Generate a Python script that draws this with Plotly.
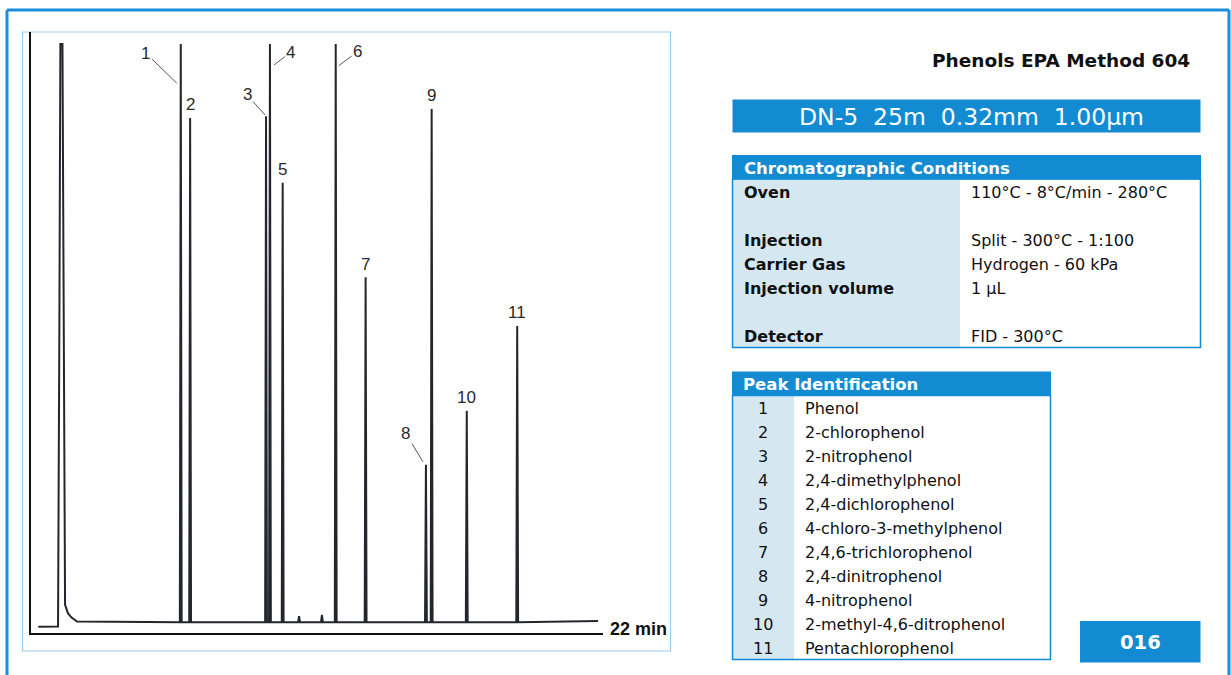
import plotly.graph_objects as go

W, H = 1231, 675

# ---------------- data ----------------
peak_numbers = ["1", "2", "3", "4", "5", "6", "7", "8", "9", "10", "11"]
peak_times = [5.76, 6.12, 9.04, 9.19, 9.68, 11.72, 12.87, 15.19, 15.41, 16.76, 18.70]   # min
peak_heights = [98.0, 85.7, 86.0, 98.0, 74.9, 98.0, 59.2, 28.0, 87.2, 37.0, 51.1]      # % full scale
compounds = ["Phenol", "2-chlorophenol", "2-nitrophenol", "2,4-dimethylphenol",
             "2,4-dichlorophenol", "4-chloro-3-methylphenol", "2,4,6-trichlorophenol",
             "2,4-dinitrophenol", "4-nitrophenol", "2-methyl-4,6-ditrophenol",
             "Pentachlorophenol"]

solvent_t = [0.28, 1.04, 1.09, 1.13, 1.21, 1.27, 1.31, 1.42, 1.55, 1.77]
solvent_y = [1.05, 1.1, 50.0, 98.0, 98.0, 20.0, 4.7, 3.3, 2.6, 1.9]

minor_times = [10.31, 11.19]
minor_heights = [2.8, 3.0]

baseline_level = 1.8
run_end_time = 21.81
run_end_level = 2.0
time_axis_label = "22 min"

condition_labels = ["Oven", "", "Injection", "Carrier Gas", "Injection volume", "", "Detector"]
condition_values = ["110°C - 8°C/min - 280°C", "", "Split - 300°C - 1:100",
                    "Hydrogen - 60 kPa", "1 µL", "", "FID - 300°C"]

title_text = "Phenols EPA Method 604"
column_text = "DN-5  25m  0.32mm  1.00µm"
page_code = "016"

# ---------------- build chromatogram trace ----------------
events = [(t, h) for t, h in zip(peak_times, peak_heights)] + \
         [(t, h) for t, h in zip(minor_times, minor_heights)]
events.sort()
xs = list(solvent_t)
ys = list(solvent_y)
dw = 0.035
for t, h in events:
    xs += [t - dw, t, t + dw]
    ys += [baseline_level, h, baseline_level]
xs.append(run_end_time)
ys.append(run_end_level)

BLUE = "#128bd3"
LIGHT = "#d5e8f2"


def fx(x):
    return x / W


def fy(y):
    return 1 - y / H


fig = go.Figure()
fig.add_trace(go.Scatter(x=xs, y=ys, mode="lines",
                         line=dict(color="#23272d", width=2),
                         hoverinfo="skip", showlegend=False))

x0p, x1p = 31, 603
y0p, y1p = 633, 32
fig.update_layout(
    width=W, height=H,
    margin=dict(l=0, r=0, t=0, b=0),
    paper_bgcolor="white", plot_bgcolor="white",
    showlegend=False,
    xaxis=dict(domain=[fx(x0p), fx(x1p)], range=[0, 22], showgrid=False,
               zeroline=False, showticklabels=False, ticks="",
               showline=True, linecolor="#111", linewidth=2),
    yaxis=dict(domain=[fy(y0p), fy(y1p)], range=[0, 100], showgrid=False,
               zeroline=False, showticklabels=False, ticks="",
               showline=True, linecolor="#111", linewidth=2),
)

shapes = []
annotations = []

# outer frame
for (xa, ya, xb, yb) in [(7, 10, 1229, 10), (7, 10, 7, 680), (1229, 10, 1229, 680)]:
    shapes.append(dict(type="line", xref="paper", yref="paper",
                       x0=fx(xa), y0=fy(ya), x1=fx(xb), y1=fy(yb),
                       line=dict(color="#1b8fdc", width=3), layer="below"))
# chart box
shapes.append(dict(type="rect", xref="paper", yref="paper",
                   x0=fx(22.5), y0=fy(651), x1=fx(670.5), y1=fy(32),
                   line=dict(color="#96cdf0", width=1.2), fillcolor="rgba(0,0,0,0)",
                   layer="below"))

# peak labels
label_font = dict(family="Liberation Sans, Arial", size=17, color="#2a2a2a")
arrow_specs = {"1": (-4, 91.5, -31, -30), "3": (-1, 86.2, -18, -20),
               "4": (4, 94.5, 17, -13), "6": (3, 94.4, 19, -14),
               "8": (-3, 28.5, -17, -28)}
for num, t, h in zip(peak_numbers, peak_times, peak_heights):
    if num in arrow_specs:
        xs_, yv, ax, ay = arrow_specs[num]
        annotations.append(dict(x=t, y=yv, xref="x", yref="y", text=num,
                                showarrow=True, arrowhead=0, arrowwidth=1,
                                arrowcolor="#555", ax=ax, ay=ay, standoff=0,
                                xshift=xs_, font=label_font))
    else:
        annotations.append(dict(x=t, y=h, xref="x", yref="y", text=num,
                                showarrow=False, yanchor="middle", yshift=13,
                                font=label_font))

# time label
annotations.append(dict(x=fx(608), y=fy(629), xref="paper", yref="paper",
                        text=f"<b>{time_axis_label}</b>", showarrow=False,
                        xanchor="left", yanchor="middle",
                        font=dict(family="Liberation Sans Narrow, Liberation Sans, Arial",
                                  size=18, color="#111")))

# title
annotations.append(dict(x=fx(1192), y=fy(61), xref="paper", yref="paper",
                        text=f"<b>{title_text}</b>", showarrow=False,
                        xanchor="right", yanchor="middle",
                        font=dict(family="DejaVu Sans", size=18.5, color="#111")))

# column bar
shapes.append(dict(type="rect", xref="paper", yref="paper",
                   x0=fx(732.5), y0=fy(132.5), x1=fx(1200.5), y1=fy(99.5),
                   line=dict(width=0), fillcolor=BLUE))
annotations.append(dict(x=fx(971), y=fy(117), xref="paper", yref="paper",
                        text=column_text, showarrow=False, xanchor="center",
                        yanchor="middle",
                        font=dict(family="DejaVu Sans", size=23.5, color="white")))

# Conditions box
shapes.append(dict(type="rect", xref="paper", yref="paper",
                   x0=fx(733), y0=fy(347), x1=fx(960), y1=fy(179),
                   line=dict(width=0), fillcolor=LIGHT))
shapes.append(dict(type="rect", xref="paper", yref="paper",
                   x0=fx(732.5), y0=fy(347.5), x1=fx(1200.5), y1=fy(179),
                   line=dict(color=BLUE, width=1.5), fillcolor="rgba(0,0,0,0)"))
shapes.append(dict(type="rect", xref="paper", yref="paper",
                   x0=fx(732), y0=fy(179.5), x1=fx(1201), y1=fy(155),
                   line=dict(width=0), fillcolor=BLUE))
annotations.append(dict(x=fx(742), y=fy(168.5), xref="paper", yref="paper",
                        text="<b>Chromatographic Conditions</b>", showarrow=False,
                        xanchor="left", yanchor="middle",
                        font=dict(family="DejaVu Sans", size=16.5, color="white")))
for i, (lab, val) in enumerate(zip(condition_labels, condition_values)):
    yy = 192 + 24 * i
    if lab:
        annotations.append(dict(x=fx(742), y=fy(yy), xref="paper", yref="paper",
                                text=f"<b>{lab}</b>", showarrow=False,
                                xanchor="left", yanchor="middle",
                                font=dict(family="DejaVu Sans", size=16, color="#111")))
    if val:
        annotations.append(dict(x=fx(969), y=fy(yy), xref="paper", yref="paper",
                                text=val, showarrow=False,
                                xanchor="left", yanchor="middle",
                                font=dict(family="DejaVu Sans", size=16, color="#111")))

# Peak identification box
shapes.append(dict(type="rect", xref="paper", yref="paper",
                   x0=fx(733), y0=fy(659), x1=fx(794), y1=fy(395.5),
                   line=dict(width=0), fillcolor=LIGHT))
shapes.append(dict(type="rect", xref="paper", yref="paper",
                   x0=fx(732.5), y0=fy(659.5), x1=fx(1050.5), y1=fy(395.5),
                   line=dict(color=BLUE, width=1.5), fillcolor="rgba(0,0,0,0)"))
shapes.append(dict(type="rect", xref="paper", yref="paper",
                   x0=fx(732), y0=fy(396), x1=fx(1051), y1=fy(371.5),
                   line=dict(width=0), fillcolor=BLUE))
annotations.append(dict(x=fx(741), y=fy(384.5), xref="paper", yref="paper",
                        text="<b>Peak Identification</b>", showarrow=False,
                        xanchor="left", yanchor="middle",
                        font=dict(family="DejaVu Sans", size=16.5, color="white")))
for i, (num, name) in enumerate(zip(peak_numbers, compounds)):
    yy = 408 + 24 * i
    annotations.append(dict(x=fx(763), y=fy(yy), xref="paper", yref="paper",
                            text=num, showarrow=False, xanchor="center",
                            yanchor="middle",
                            font=dict(family="DejaVu Sans", size=16, color="#111")))
    annotations.append(dict(x=fx(802.5), y=fy(yy), xref="paper", yref="paper",
                            text=name, showarrow=False, xanchor="left",
                            yanchor="middle",
                            font=dict(family="DejaVu Sans", size=16, color="#111")))

# page code
shapes.append(dict(type="rect", xref="paper", yref="paper",
                   x0=fx(1080), y0=fy(662.5), x1=fx(1200.5), y1=fy(621),
                   line=dict(width=0), fillcolor=BLUE))
annotations.append(dict(x=fx(1140), y=fy(642), xref="paper", yref="paper",
                        text=f"<b>{page_code}</b>", showarrow=False,
                        xanchor="center", yanchor="middle",
                        font=dict(family="DejaVu Sans", size=19.5, color="white")))

fig.update_layout(shapes=shapes, annotations=annotations)
fig.write_html("out.html", config={"displayModeBar": False},
               post_script="document.body.style.margin='0';")
